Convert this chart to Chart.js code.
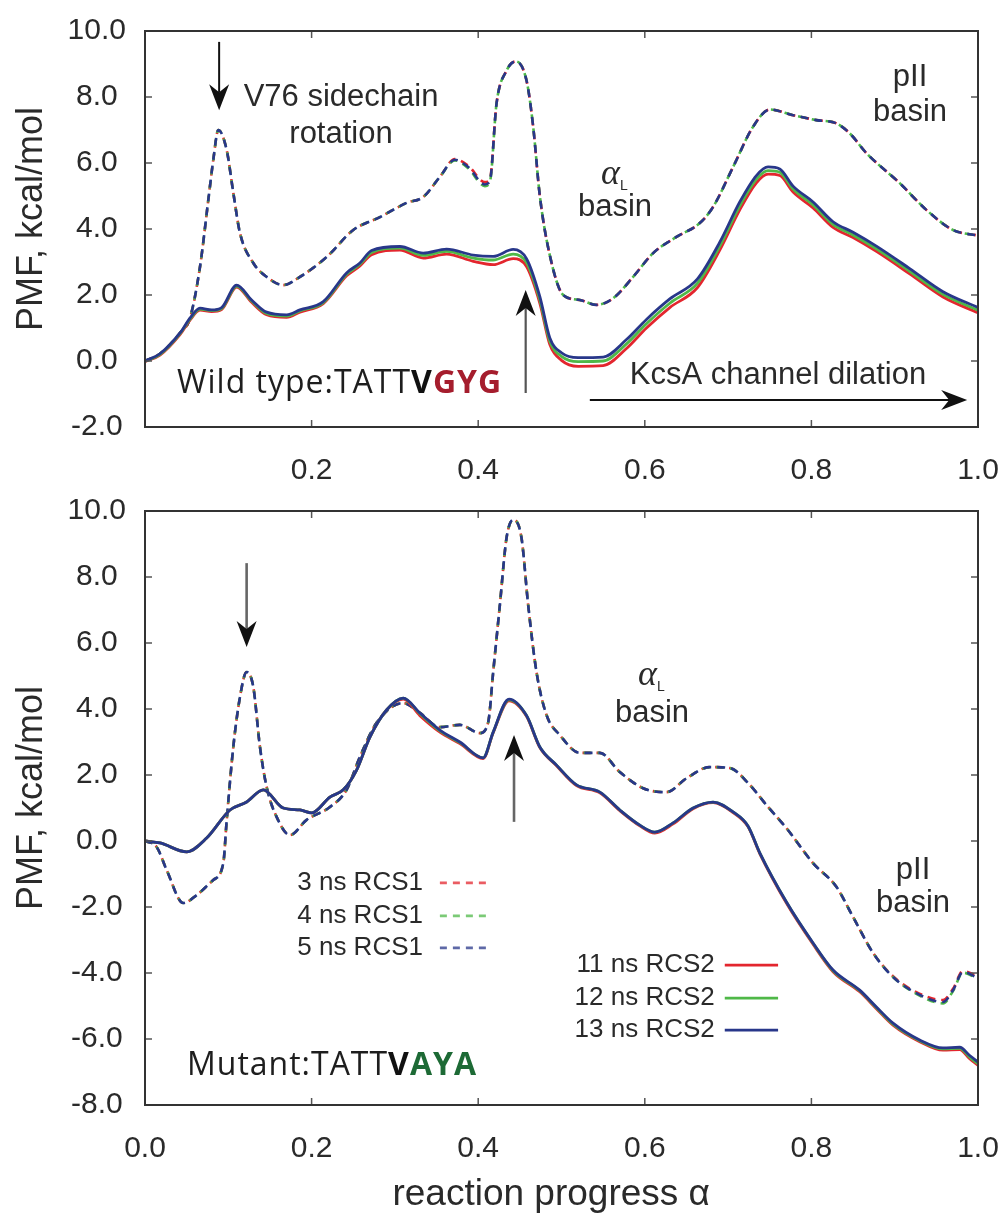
<!DOCTYPE html>
<html><head><meta charset="utf-8">
<script src="https://cdn.jsdelivr.net/npm/chart.js@4.4.0/dist/chart.umd.min.js"></script>
<style>
html,body{margin:0;padding:0;background:#fff;}
#wrap{position:relative;width:1003px;height:1217px;overflow:hidden;}
#c1{position:absolute;left:0;top:0;}
#c2{position:absolute;left:0;top:490px;}
</style></head><body>
<div id="wrap">
<canvas id="c1" width="1003" height="490"></canvas>
<canvas id="c2" width="1003" height="727"></canvas>
</div>
<script>
// ---------------- DATA ----------------
const xTickVals = [0, 0.2, 0.4, 0.6, 0.8, 1.0];
const yTicksTop = [-2, 0, 2, 4, 6, 8, 10];
const yTicksBot = [-8, -6, -4, -2, 0, 2, 4, 6, 8, 10];
const seriesLabels = ['3 ns RCS1', '4 ns RCS1', '5 ns RCS1', '11 ns RCS2', '12 ns RCS2', '13 ns RCS2'];

// Wild type, RCS2 (solid)
const topSolidX     = [0.000,0.018,0.042,0.054,0.066,0.080,0.092,0.110,0.128,0.146,0.170,0.186,0.214,0.242,0.258,0.272,0.306,0.334,0.362,0.394,0.418,0.442,0.458,0.474,0.486,0.500,0.520,0.550,0.578,0.602,0.630,0.663,0.690,0.714,0.734,0.748,0.762,0.778,0.802,0.826,0.850,0.878,0.918,0.958,1.000];
const topSolid13    = [0.00,0.22,0.85,1.30,1.60,1.55,1.62,2.30,1.85,1.48,1.40,1.55,1.80,2.67,2.97,3.35,3.47,3.27,3.39,3.21,3.17,3.38,3.10,1.95,0.70,0.25,0.10,0.12,0.65,1.26,1.88,2.48,3.60,4.82,5.62,5.88,5.82,5.30,4.82,4.22,3.90,3.48,2.80,2.10,1.62];
const topSolid12    = [-0.01,0.20,0.83,1.27,1.57,1.53,1.59,2.27,1.82,1.44,1.36,1.52,1.77,2.63,2.93,3.29,3.42,3.20,3.32,3.12,3.06,3.24,2.98,1.85,0.60,0.14,-0.02,0.00,0.52,1.13,1.75,2.35,3.48,4.70,5.51,5.77,5.72,5.21,4.73,4.14,3.82,3.40,2.72,2.02,1.54];
const topSolid11    = [-0.02,0.18,0.80,1.24,1.54,1.50,1.56,2.24,1.78,1.40,1.32,1.48,1.74,2.58,2.88,3.22,3.36,3.12,3.24,3.02,2.92,3.10,2.86,1.75,0.50,0.02,-0.16,-0.14,0.38,1.00,1.62,2.22,3.36,4.58,5.40,5.66,5.62,5.12,4.64,4.05,3.74,3.32,2.64,1.94,1.46];
// Wild type, RCS1 (dashed)
const topDashX      = [0.000,0.018,0.042,0.054,0.066,0.076,0.082,0.088,0.098,0.106,0.114,0.130,0.146,0.166,0.186,0.218,0.250,0.282,0.314,0.334,0.354,0.372,0.388,0.408,0.414,0.422,0.434,0.445,0.458,0.466,0.474,0.486,0.502,0.522,0.542,0.562,0.586,0.610,0.638,0.666,0.682,0.706,0.730,0.750,0.778,0.806,0.830,0.846,0.866,0.906,0.938,0.970,1.000];
const topDash5      = [0.00,0.22,0.85,1.30,2.85,4.88,6.10,7.00,6.40,5.10,3.88,2.97,2.55,2.30,2.55,3.15,3.97,4.36,4.79,4.97,5.58,6.10,5.88,5.35,5.45,7.80,8.80,9.08,8.50,7.10,5.00,3.20,2.00,1.85,1.70,1.90,2.55,3.27,3.76,4.18,4.67,5.88,7.10,7.62,7.45,7.30,7.20,6.90,6.30,5.39,4.58,3.97,3.80];
const topDash4      = [0.00,0.22,0.85,1.30,2.85,4.88,6.10,7.00,6.40,5.10,3.88,2.97,2.55,2.30,2.55,3.15,3.97,4.36,4.79,4.97,5.58,6.08,5.84,5.30,5.42,7.80,8.80,9.08,8.50,7.10,5.00,3.20,2.00,1.85,1.70,1.90,2.55,3.27,3.76,4.18,4.67,5.88,7.10,7.62,7.45,7.30,7.20,6.90,6.30,5.39,4.58,3.97,3.80];
const topDash3      = [0.00,0.22,0.85,1.30,2.85,4.88,6.10,7.00,6.40,5.10,3.88,2.97,2.55,2.30,2.55,3.15,3.97,4.36,4.79,4.97,5.58,6.12,5.92,5.42,5.50,7.80,8.80,9.08,8.50,7.10,5.00,3.20,2.00,1.85,1.70,1.90,2.55,3.27,3.76,4.18,4.67,5.88,7.10,7.62,7.45,7.30,7.20,6.90,6.30,5.39,4.58,3.97,3.80];

// Mutant, RCS2 (solid)
const botSolidX     = [0.000,0.018,0.050,0.074,0.102,0.122,0.142,0.166,0.186,0.200,0.222,0.238,0.254,0.270,0.290,0.310,0.330,0.354,0.378,0.406,0.418,0.437,0.458,0.474,0.494,0.518,0.546,0.570,0.594,0.612,0.634,0.658,0.682,0.706,0.724,0.738,0.770,0.802,0.826,0.858,0.878,0.898,0.930,0.958,0.978,0.990,1.000];
const botSolid13    = [0.00,-0.06,-0.33,0.09,0.94,1.18,1.55,1.00,0.94,0.85,1.33,1.55,2.15,3.15,3.97,4.33,3.88,3.36,3.00,2.52,3.30,4.30,3.80,2.85,2.30,1.70,1.48,0.94,0.48,0.27,0.55,1.00,1.18,0.88,0.45,-0.36,-1.85,-3.09,-3.91,-4.52,-5.03,-5.52,-6.03,-6.27,-6.25,-6.50,-6.70];
const botSolid12    = [0.00,-0.06,-0.33,0.09,0.94,1.18,1.55,1.00,0.94,0.85,1.33,1.55,2.15,3.15,3.97,4.33,3.86,3.34,2.98,2.52,3.30,4.28,3.80,2.85,2.30,1.70,1.48,0.94,0.48,0.27,0.55,1.00,1.18,0.88,0.45,-0.36,-1.85,-3.10,-3.93,-4.54,-5.05,-5.55,-6.05,-6.30,-6.28,-6.55,-6.75];
const botSolid11    = [0.00,-0.06,-0.33,0.09,0.94,1.18,1.55,1.00,0.94,0.85,1.33,1.55,2.15,3.15,3.97,4.30,3.80,3.30,2.95,2.50,3.28,4.25,3.78,2.83,2.28,1.68,1.46,0.92,0.46,0.24,0.52,0.98,1.16,0.86,0.43,-0.38,-1.88,-3.13,-3.96,-4.57,-5.08,-5.58,-6.08,-6.34,-6.32,-6.60,-6.80];
// Mutant, RCS1 (dashed)
const botDashX      = [0.000,0.014,0.026,0.046,0.062,0.082,0.094,0.098,0.106,0.114,0.122,0.130,0.138,0.146,0.158,0.174,0.194,0.222,0.242,0.258,0.278,0.310,0.330,0.354,0.378,0.402,0.412,0.418,0.426,0.434,0.442,0.452,0.460,0.470,0.482,0.498,0.522,0.546,0.570,0.598,0.626,0.650,0.678,0.702,0.726,0.746,0.770,0.802,0.830,0.850,0.874,0.898,0.926,0.958,0.970,0.982,1.000];
const botDash5      = [0.00,-0.18,-0.88,-1.88,-1.64,-1.18,-0.67,0.60,2.85,4.36,5.12,4.67,2.85,1.64,0.73,0.18,0.64,1.03,1.55,2.55,3.58,4.18,3.88,3.45,3.52,3.27,3.60,5.12,7.15,9.18,9.73,9.18,7.15,5.12,3.82,3.21,2.67,2.67,2.09,1.60,1.48,1.90,2.24,2.21,1.70,1.09,0.39,-0.67,-1.39,-2.30,-3.39,-4.12,-4.61,-4.88,-4.52,-3.97,-4.15];
const botDash4      = [0.00,-0.18,-0.88,-1.88,-1.64,-1.18,-0.67,0.60,2.85,4.36,5.12,4.67,2.85,1.64,0.73,0.18,0.64,1.03,1.55,2.55,3.58,4.18,3.88,3.45,3.52,3.27,3.60,5.12,7.15,9.18,9.73,9.18,7.15,5.12,3.82,3.21,2.67,2.67,2.09,1.60,1.48,1.90,2.24,2.21,1.70,1.09,0.39,-0.67,-1.39,-2.30,-3.39,-4.12,-4.63,-4.92,-4.55,-3.99,-4.18];
const botDash3      = [0.00,-0.18,-0.88,-1.88,-1.64,-1.18,-0.67,0.60,2.85,4.36,5.12,4.67,2.85,1.64,0.73,0.18,0.64,1.03,1.55,2.55,3.58,4.18,3.88,3.45,3.52,3.27,3.60,5.12,7.15,9.18,9.73,9.18,7.15,5.12,3.82,3.21,2.67,2.67,2.09,1.60,1.48,1.90,2.24,2.21,1.70,1.09,0.39,-0.67,-1.39,-2.30,-3.39,-4.10,-4.58,-4.82,-4.48,-3.94,-4.10];

// ---------------- STYLE ----------------
const RED = '#e3262e', GREEN = '#4fb848', BLUE = '#28378a';
Chart.defaults.font.family = "'Liberation Sans', Arial, sans-serif";
Chart.defaults.color = '#2a2a2a';

function pts(xs, ys) { return xs.map((x, i) => ({ x: x, y: ys[i] })); }
function solid(label, xs, ys, c) {
  return { label, data: pts(xs, ys), borderColor: c, backgroundColor: c, borderWidth: 2.8,
           pointRadius: 0, fill: false, cubicInterpolationMode: 'monotone' };
}
function dashed(label, xs, ys, c, off) {
  return { label, data: pts(xs, ys), borderColor: c, backgroundColor: c, borderWidth: 2.6,
           borderDash: [8, 6], borderDashOffset: off, pointRadius: 0, fill: false,
           cubicInterpolationMode: 'monotone' };
}

function drawArrow(ctx, x1, y1, x2, y2, c, w) {
  const ang = Math.atan2(y2 - y1, x2 - x1);
  const hl = 26, hw = 10, back = 8;
  ctx.save();
  ctx.strokeStyle = c; ctx.lineWidth = w;
  ctx.beginPath(); ctx.moveTo(x1, y1);
  ctx.lineTo(x2 - Math.cos(ang) * (hl - back), y2 - Math.sin(ang) * (hl - back)); ctx.stroke();
  ctx.translate(x2, y2); ctx.rotate(ang);
  ctx.fillStyle = '#111';
  ctx.beginPath(); ctx.moveTo(0, 0); ctx.lineTo(-hl, -hw); ctx.lineTo(-hl + back, 0); ctx.lineTo(-hl, hw);
  ctx.closePath(); ctx.fill();
  ctx.restore();
}

const deco = {
  id: 'deco',
  afterDraw(chart, args, o) {
    const { ctx, chartArea: a } = chart;
    const X = v => chart.scales.x.getPixelForValue(v), Y = v => chart.scales.y.getPixelForValue(v);
    ctx.save();
    // inner tick marks
    ctx.strokeStyle = '#555'; ctx.lineWidth = 1.5;
    ctx.beginPath();
    o.xt.forEach(v => { const p = X(v); ctx.moveTo(p, a.bottom); ctx.lineTo(p, a.bottom - 7); ctx.moveTo(p, a.top); ctx.lineTo(p, a.top + 7); });
    o.yt.forEach(v => { const p = Y(v); ctx.moveTo(a.left, p); ctx.lineTo(a.left + 7, p); ctx.moveTo(a.right, p); ctx.lineTo(a.right - 7, p); });
    ctx.stroke();
    // frame
    ctx.strokeStyle = '#333'; ctx.lineWidth = 2;
    ctx.strokeRect(a.left, a.top, a.right - a.left, a.bottom - a.top);
    // arrows
    o.arrows.forEach(r => drawArrow(ctx, X(r.x1), Y(r.y1), X(r.x2), Y(r.y2), r.c, r.w));
    // plain texts
    ctx.fillStyle = '#2a2a2a'; ctx.font = "31px 'Liberation Sans'";
    ctx.textAlign = 'center'; ctx.textBaseline = 'middle';
    o.texts.forEach(t => ctx.fillText(t.t, X(t.x), Y(t.y)));
    // alpha_L
    const ax = X(o.alpha.x), ay = Y(o.alpha.y);
    ctx.font = "italic 36px 'Liberation Serif'"; ctx.textAlign = 'right';
    ctx.fillText('\u03b1', ax + 7, ay - 2);
    ctx.font = "14px 'Liberation Sans'"; ctx.textAlign = 'left';
    ctx.fillText('L', ax + 7, ay + 9);
    // sequence label
    let sx = X(o.seq.x); const sy = Y(o.seq.y);
    ctx.textAlign = 'left'; ctx.textBaseline = 'alphabetic';
    ctx.letterSpacing = '1px';
    o.seq.parts.forEach(p => {
      ctx.font = p.w + " 32px 'Open Sans'"; ctx.fillStyle = p.c;
      ctx.fillText(p.t, sx, sy); sx += ctx.measureText(p.t).width;
    });
    ctx.letterSpacing = '0px';
    // legend
    if (o.legend) {
      ctx.font = "26px 'Liberation Sans'"; ctx.textBaseline = 'middle';
      o.legend.forEach(L => {
        const ds = chart.data.datasets[L.ds];
        const y = Y(L.y);
        ctx.fillStyle = '#2a2a2a'; ctx.textAlign = 'right';
        ctx.fillText(ds.label, X(L.tx), y);
        ctx.save();
        ctx.strokeStyle = ds.borderColor; ctx.globalAlpha = ds.borderDash ? 0.75 : 1;
        ctx.lineWidth = 2.6; ctx.setLineDash(ds.borderDash ? [7, 6] : []);
        ctx.beginPath(); ctx.moveTo(X(L.x1), y); ctx.lineTo(X(L.x2), y); ctx.stroke();
        ctx.restore();
      });
    }
    ctx.restore();
  }
};

function makeOptions(yMin, yMax, yTicks, showZeroX, axisH, padTop, xTitle, decoOpts) {
  return {
    responsive: false, animation: false,
    layout: { padding: { top: padTop, right: 25, bottom: 0, left: 0 } },
    plugins: { legend: { display: false }, tooltip: { enabled: false }, deco: decoOpts },
    scales: {
      x: {
        type: 'linear', min: 0, max: 1,
        afterBuildTicks: s => { s.ticks = xTickVals.map(v => ({ value: v })); },
        ticks: { font: { size: 30 }, color: '#2a2a2a', padding: 26,
                 callback: v => (v === 0 && !showZeroX) ? '' : v.toFixed(1), maxRotation: 0, autoSkip: false },
        grid: { display: false, drawTicks: false }, border: { display: false },
        title: xTitle ? { display: true, text: xTitle, font: { size: 37 }, color: '#2a2a2a', padding: { top: 0, bottom: 0 } } : { display: false },
        afterFit: s => { s.height = axisH; s.paddingLeft = 0; s.paddingRight = 0; }
      },
      y: {
        type: 'linear', min: yMin, max: yMax,
        afterBuildTicks: s => { s.ticks = yTicks.map(v => ({ value: v })); },
        ticks: { font: { size: 30 }, color: '#2a2a2a', padding: 19, crossAlign: 'center',
                 callback: v => v.toFixed(1) },
        grid: { display: false, drawTicks: false }, border: { display: false },
        title: { display: true, text: '  PMF, kcal/mol', font: { size: 36 }, color: '#2a2a2a', padding: { top: 10, bottom: 0 } },
        afterFit: s => { s.width = 145; s.paddingTop = 0; s.paddingBottom = 0; }
      }
    }
  };
}

// ---------------- TOP CHART (wild type) ----------------
new Chart(document.getElementById('c1'), {
  type: 'line',
  plugins: [deco],
  data: { datasets: [
    solid(seriesLabels[5], topSolidX, topSolid13, BLUE),
    solid(seriesLabels[4], topSolidX, topSolid12, GREEN),
    solid(seriesLabels[3], topSolidX, topSolid11, RED),
    dashed(seriesLabels[2], topDashX, topDash5, BLUE, 0),
    dashed(seriesLabels[1], topDashX, topDash4, GREEN, 1),
    dashed(seriesLabels[0], topDashX, topDash3, RED, 2)
  ]},
  options: makeOptions(-2, 10, yTicksTop, false, 63, 31, null, {
    xt: [0.2, 0.4, 0.6, 0.8], yt: yTicksTop,
    arrows: [
      { x1: 0.089, y1: 9.67, x2: 0.089, y2: 7.6, c: '#111', w: 2 },
      { x1: 0.457, y1: -0.97, x2: 0.457, y2: 2.15, c: '#555', w: 2.2 },
      { x1: 0.534, y1: -1.18, x2: 0.987, y2: -1.18, c: '#111', w: 2 }
    ],
    texts: [
      { t: 'V76 sidechain', x: 0.2353, y: 8.0 },
      { t: 'rotation', x: 0.2353, y: 6.85 },
      { t: 'basin', x: 0.5642, y: 4.667 },
      { t: 'pII', x: 0.9184, y: 8.606 },
      { t: 'basin', x: 0.9184, y: 7.545 },
      { t: 'KcsA channel dilation', x: 0.7599, y: -0.424 }
    ],
    alpha: { x: 0.5618, y: 5.576 },
    seq: { x: 0.0384, y: -0.97, parts: [
      { t: 'Wild type:', w: '400', c: '#1e1e1e' },
      { t: 'TATT', w: '400', c: '#1e1e1e' },
      { t: 'V', w: '700', c: '#111' },
      { t: 'GYG', w: '700', c: '#a51d2d' }
    ]}
  })
});

// ---------------- BOTTOM CHART (mutant) ----------------
new Chart(document.getElementById('c2'), {
  type: 'line',
  plugins: [deco],
  data: { datasets: [
    solid(seriesLabels[5], botSolidX, botSolid13, BLUE),
    solid(seriesLabels[4], botSolidX, botSolid12, GREEN),
    solid(seriesLabels[3], botSolidX, botSolid11, RED),
    dashed(seriesLabels[2], botDashX, botDash5, BLUE, 0),
    dashed(seriesLabels[1], botDashX, botDash4, GREEN, 1),
    dashed(seriesLabels[0], botDashX, botDash3, RED, 2)
  ]},
  options: makeOptions(-8, 10, yTicksBot, true, 112, 21, 'reaction progress \u03b1  ', {
    xt: [0.2, 0.4, 0.6, 0.8], yt: yTicksBot,
    arrows: [
      { x1: 0.122, y1: 8.42, x2: 0.122, y2: 5.88, c: '#666', w: 2.6 },
      { x1: 0.443, y1: 0.58, x2: 0.443, y2: 3.21, c: '#666', w: 2.6 }
    ],
    texts: [
      { t: 'basin', x: 0.6086, y: 3.88 },
      { t: 'pII', x: 0.922, y: -0.879 },
      { t: 'basin', x: 0.922, y: -1.879 }
    ],
    alpha: { x: 0.6062, y: 4.94 },
    seq: { x: 0.0504, y: -7.09, parts: [
      { t: 'Mutant:', w: '400', c: '#1e1e1e' },
      { t: 'TATT', w: '400', c: '#1e1e1e' },
      { t: 'V', w: '700', c: '#111' },
      { t: 'AYA', w: '700', c: '#1d6a35' }
    ]},
    legend: [
      { ds: 5, tx: 0.3337, x1: 0.354, x2: 0.4106, y: -1.27 },
      { ds: 4, tx: 0.3337, x1: 0.354, x2: 0.4106, y: -2.27 },
      { ds: 3, tx: 0.3337, x1: 0.354, x2: 0.4106, y: -3.24 },
      { ds: 2, tx: 0.684, x1: 0.696, x2: 0.760, y: -3.76 },
      { ds: 1, tx: 0.684, x1: 0.696, x2: 0.760, y: -4.76 },
      { ds: 0, tx: 0.684, x1: 0.696, x2: 0.760, y: -5.73 }
    ]
  })
});
</script>
</body></html>
